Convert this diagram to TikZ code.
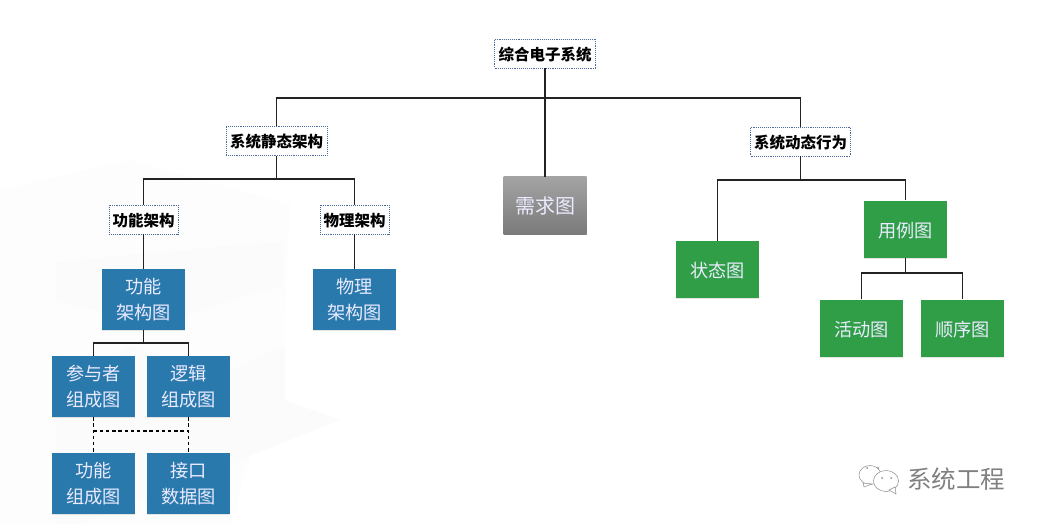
\documentclass[tikz,border=0pt]{standalone}
\usepackage{fontspec}
\setmainfont{Noto Sans CJK SC}
\usetikzlibrary{shadows,calc}
\definecolor{boxblue}{HTML}{2A79AD}
\definecolor{boxgreen}{HTML}{2F9E47}
\definecolor{dotblue}{HTML}{4A6A9C}
\definecolor{linedark}{HTML}{222222}
\tikzset{
  x=1pt,y=-1pt,
  tag/.style={draw=dotblue,densely dotted,line width=0.9pt,fill=white,inner sep=0pt,font=\fontsize{15.5}{18}\selectfont\bfseries,text=black,anchor=center,execute at begin node=\rule{0pt}{15.5pt}},
  diagram/.style={inner sep=0pt,align=center,text=white!92!blue,font=\fontsize{18.2}{26}\selectfont,anchor=center,execute at begin node=\rule{0pt}{18pt},
     drop shadow={opacity=.2,shadow xshift=0pt,shadow yshift=-1pt}},
  bluebox/.style={diagram,fill=boxblue,minimum width=83pt,minimum height=61pt},
  greenbox/.style={diagram,fill=boxgreen,minimum width=83pt,minimum height=57pt},
  graybox/.style={diagram,top color=black!36,bottom color=black!52,minimum width=83pt,minimum height=57pt,font=\fontsize{20}{26}\selectfont},
  wire/.style={draw=linedark,line width=1.5pt},
  dashwire/.style={draw=black,line width=1.8pt,dash pattern=on 3.4pt off 2.8pt},
  faint/.style={fill=black!1.6,draw=none},
  sigline/.style={draw=black!45,line width=0.5pt,fill=white},
}
\begin{document}
\begin{tikzpicture}
\useasboundingbox (0,0) rectangle (1039,524);
\fill[white] (0,0) rectangle (1039,524);
% faint watermark
\fill[black!0.8] (0,190) -- (130,160) -- (290,205) -- (283,345) -- (230,524) -- (0,524) -- cycle;
\fill[faint] (56,262) -- (283,241) -- (283,285) -- (150,325) -- (56,300) -- cycle;
\fill[faint] (56,405) -- (130,345) -- (340,420) -- (240,460) -- (80,524) -- (56,524) -- cycle;
\fill[faint] (230,370) -- (285,345) -- (285,400) -- (230,420) -- cycle;
% nodes
\node[tag,minimum width=101pt,minimum height=29pt] (root) at (545,53.5) {综合电子系统};
\node[tag,minimum width=101pt,minimum height=29pt] (static) at (276.5,141) {系统静态架构};
\node[tag,minimum width=100pt,minimum height=29pt] (dyn) at (800.5,141.5) {系统动态行为};
\node[tag,minimum width=69pt,minimum height=29pt] (func) at (143.5,219.5) {功能架构};
\node[tag,minimum width=69pt,minimum height=29pt] (phys) at (354.5,219.5) {物理架构};
\node[graybox] (req) at (545,205.5) {需求图};
\node[bluebox] (fa) at (143.5,299.5) {功能\\架构图};
\node[bluebox] (pa) at (354.5,299.5) {物理\\架构图};
\node[bluebox] (act) at (93.5,386.5) {参与者\\组成图};
\node[bluebox] (log) at (188.5,386.5) {逻辑\\组成图};
\node[bluebox] (fc) at (93.5,483.5) {功能\\组成图};
\node[bluebox] (if) at (188.5,483.5) {接口\\数据图};
\node[greenbox] (st) at (717.5,269.5) {状态图};
\node[greenbox] (uc) at (905.5,229) {用例图};
\node[greenbox] (ac) at (861.5,328) {活动图};
\node[greenbox] (sq) at (962.5,328) {顺序图};
% junctions
\coordinate (j1) at (545,98);
\coordinate (j2) at (276.5,179);
\coordinate (j3) at (800.5,180);
\coordinate (j4) at (905.5,273);
\coordinate (j5) at (143.5,343);
\coordinate (j6) at (93.5,431);
\coordinate (j7) at (188.5,431);
% connectors
\draw[wire] (root.south) -- (req.north);
\draw[wire] (static.north) |- (j1) -| (dyn.north);
\draw[wire] (static.south) -- (j2);
\draw[wire] (func.north) |- (j2) -| (phys.north);
\draw[wire] (dyn.south) -- (j3);
\draw[wire] (st.north) |- (j3) -| (uc.north);
\draw[wire] (func.south) -- (fa.north);
\draw[wire] (phys.south) -- (pa.north);
\draw[wire] (fa.south) -- (j5);
\draw[wire] (act.north) |- (j5) -| (log.north);
\draw[wire] (uc.south) -- (j4);
\draw[wire] (ac.north) |- (j4) -| (sq.north);
\draw[dashwire] (act.south) -- (fc.north);
\draw[dashwire] (log.south) -- (if.north);
\draw[dashwire] (j6) -- (j7);
% signature
\draw[sigline] (870,475) ellipse [x radius=11pt,y radius=9.5pt];
\draw[sigline] (863,483) -- (864,487) -- (872,484) -- cycle;
\draw[sigline] (886,481) ellipse [x radius=12.5pt,y radius=10.5pt];
\draw[sigline] (889,490) -- (896,494) -- (895,487) -- cycle;
\fill[black!45] (867,468) circle (1pt) (878,468) circle (1pt) (882,478) circle (1pt) (891,478) circle (1pt);
\node[inner sep=0pt,text=black!50,font=\fontsize{24.5}{26}\selectfont] (sig) at (956,479.5) {系统工程};
\end{tikzpicture}
\end{document}
